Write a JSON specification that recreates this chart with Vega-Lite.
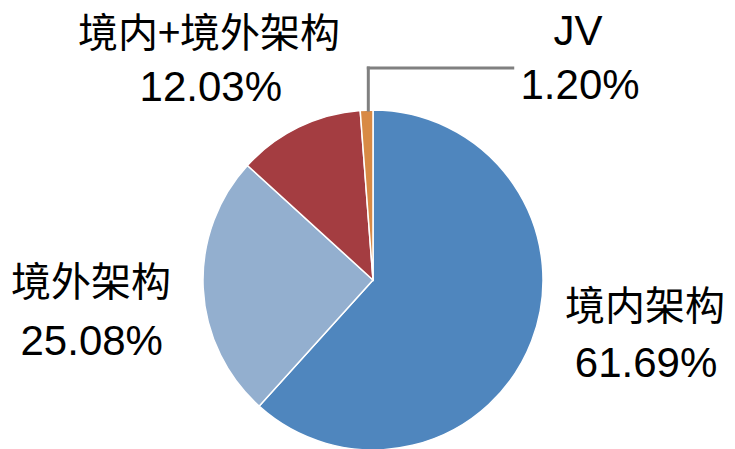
{
  "$schema": "https://vega.github.io/schema/vega-lite/v6.json",
  "width": 724,
  "height": 338,
  "autosize": "none",
  "padding": {"left": 11, "top": 111, "right": 0, "bottom": 0},
  "background": "white",
  "config": {"view": {"stroke": null}},
  "data": {"values": [
    {"cat": "境内架构", "value": 0.6169},
    {"cat": "境外架构", "value": 0.2508},
    {"cat": "境内+境外架构", "value": 0.1203},
    {"cat": "JV", "value": 0.0120}
  ]},
  "layer": [
    {
      "mark": {"type": "arc", "outerRadius": 170, "stroke": "white", "strokeWidth": 1.5},
      "encoding": {
        "theta": {"field": "value", "type": "quantitative", "stack": true, "scale": {"domain": [0, 1]}},
        "order": {"field": "value", "sort": "descending"},
        "color": {"field": "cat", "type": "nominal", "legend": null,
          "scale": {"domain": ["境内架构", "境外架构", "境内+境外架构", "JV"], "range": ["#4F86BE", "#93AFCF", "#A43D41", "#D88A45"]}}
      }
    },
    {
      "data": {"values": [{}]},
      "mark": {"type": "rule", "color": "#808080", "strokeWidth": 3, "strokeCap": "square"},
      "encoding": {
        "x": {"datum": -0.0276, "type": "quantitative", "scale": {"domain": [-2.1294, 2.1294], "nice": false, "zero": false}, "axis": null},
        "y": {"datum": 1.0, "type": "quantitative", "scale": {"domain": [-0.99412, 0.99412], "nice": false, "zero": false}, "axis": null},
        "y2": {"datum": 1.247}
      }
    },
    {
      "data": {"values": [{}]},
      "mark": {"type": "rule", "color": "#808080", "strokeWidth": 3, "strokeCap": "square"},
      "encoding": {
        "x": {"datum": -0.0276, "type": "quantitative"},
        "x2": {"datum": 0.822},
        "y": {"datum": 1.247, "type": "quantitative"}
      }
    },
    {
      "mark": {"type": "text", "radius": 280, "dx": 10.7, "dy": -73, "font": "Noto Sans CJK SC", "fontSize": 40, "align": "center", "baseline": "middle", "color": "black"},
      "encoding": {
        "theta": {"field": "value", "type": "quantitative", "stack": true},
        "order": {"field": "value", "sort": "descending"},
        "text": {"condition": {"test": "datum.cat === '境内架构'", "field": "cat", "type": "nominal"}, "value": ""}
      }
    },
    {
      "mark": {"type": "text", "radius": 280, "dx": 11.7, "dy": -17, "font": "Liberation Sans", "fontSize": 42, "align": "center", "baseline": "middle", "color": "black"},
      "encoding": {
        "theta": {"field": "value", "type": "quantitative", "stack": true},
        "order": {"field": "value", "sort": "descending"},
        "text": {"condition": {"test": "datum.cat === '境内架构'", "field": "value", "type": "quantitative", "format": ".2%"}, "value": ""}
      }
    },
    {
      "mark": {"type": "text", "radius": 280, "dx": -2.3, "dy": -9.5, "font": "Noto Sans CJK SC", "fontSize": 40, "align": "center", "baseline": "middle", "color": "black"},
      "encoding": {
        "theta": {"field": "value", "type": "quantitative", "stack": true},
        "order": {"field": "value", "sort": "descending"},
        "text": {"condition": {"test": "datum.cat === '境外架构'", "field": "cat", "type": "nominal"}, "value": ""}
      }
    },
    {
      "mark": {"type": "text", "radius": 280, "dx": -1.6, "dy": 48.5, "font": "Liberation Sans", "fontSize": 42, "align": "center", "baseline": "middle", "color": "black"},
      "encoding": {
        "theta": {"field": "value", "type": "quantitative", "stack": true},
        "order": {"field": "value", "sort": "descending"},
        "text": {"condition": {"test": "datum.cat === '境外架构'", "field": "value", "type": "quantitative", "format": ".2%"}, "value": ""}
      }
    },
    {
      "mark": {"type": "text", "radius": 280, "dx": -41.4, "dy": 7.2, "font": "Noto Sans CJK SC", "fontSize": 40, "align": "center", "baseline": "middle", "color": "black"},
      "encoding": {
        "theta": {"field": "value", "type": "quantitative", "stack": true},
        "order": {"field": "value", "sort": "descending"},
        "text": {"condition": {"test": "datum.cat === '境内+境外架构'", "field": "cat", "type": "nominal"}, "value": ""}
      }
    },
    {
      "mark": {"type": "text", "radius": 280, "dx": -39.6, "dy": 59.4, "font": "Liberation Sans", "fontSize": 42, "align": "center", "baseline": "middle", "color": "black"},
      "encoding": {
        "theta": {"field": "value", "type": "quantitative", "stack": true},
        "order": {"field": "value", "sort": "descending"},
        "text": {"condition": {"test": "datum.cat === '境内+境外架构'", "field": "value", "type": "quantitative", "format": ".2%"}, "value": ""}
      }
    },
    {
      "mark": {"type": "text", "radius": 280, "dx": 215.6, "dy": 31.8, "font": "Liberation Sans", "fontSize": 42, "align": "center", "baseline": "middle", "color": "black"},
      "encoding": {
        "theta": {"field": "value", "type": "quantitative", "stack": true},
        "order": {"field": "value", "sort": "descending"},
        "text": {"condition": {"test": "datum.cat === 'JV'", "field": "cat", "type": "nominal"}, "value": ""}
      }
    },
    {
      "mark": {"type": "text", "radius": 280, "dx": 217.6, "dy": 85.8, "font": "Liberation Sans", "fontSize": 42, "align": "center", "baseline": "middle", "color": "black"},
      "encoding": {
        "theta": {"field": "value", "type": "quantitative", "stack": true},
        "order": {"field": "value", "sort": "descending"},
        "text": {"condition": {"test": "datum.cat === 'JV'", "field": "value", "type": "quantitative", "format": ".2%"}, "value": ""}
      }
    }
  ]
}
